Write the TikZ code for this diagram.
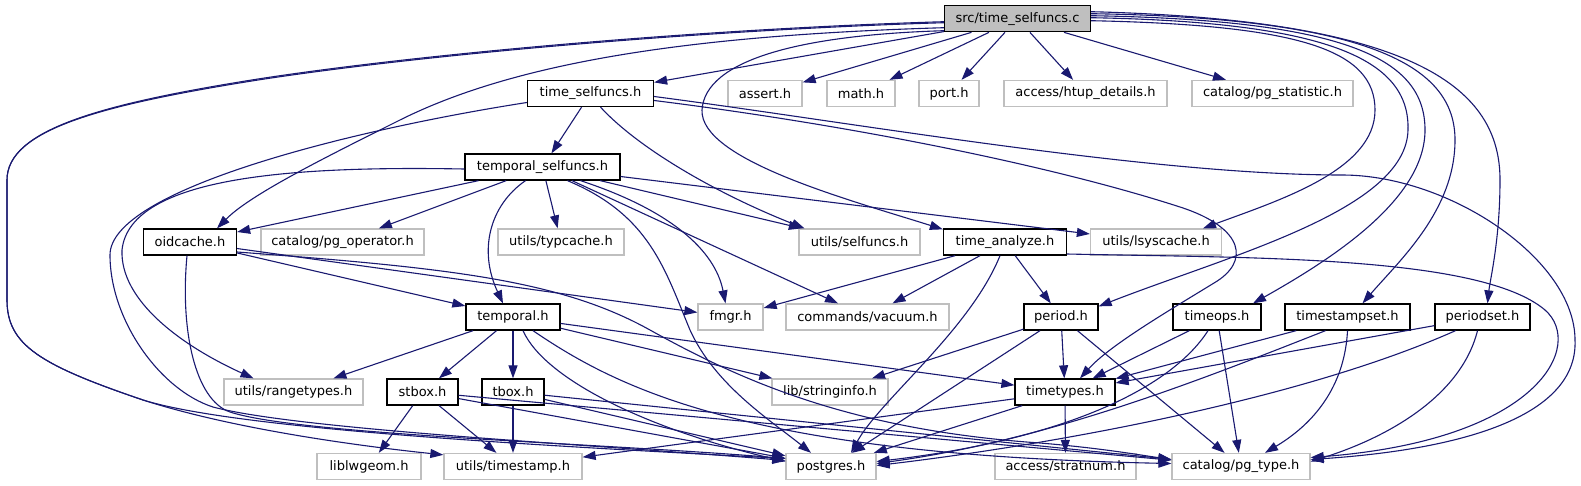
\documentclass[tikz,border=0pt]{standalone}
\usepackage{fontspec}
\setmainfont{DejaVu Sans}
\usetikzlibrary{arrows.meta}
\definecolor{edgeblue}{RGB}{25,25,112}
\definecolor{grey75}{RGB}{191,191,191}

\begin{document}
\begin{tikzpicture}[x=1pt,y=-1pt,
    hdr/.style={draw=black, line width=1.3pt, minimum height=26pt, inner sep=0pt,
        font=\fontsize{13}{15}\selectfont},
    sys/.style={hdr, draw=grey75},
    inc/.style={draw=edgeblue, line width=1.1pt, -{Triangle[length=13pt,width=9pt]}}]
    \useasboundingbox (0,0) rectangle (1581,485);

    \node[hdr, fill=grey75, minimum width=146pt] (root) at (1017.5,18.7) {src/time\_selfuncs.c};

    \node[hdr, minimum width=126pt] (tsh) at (590.5,93.5) {time\_selfuncs.h};
    \node[sys, minimum width=74pt] (assert) at (765,93.5) {assert.h};
    \node[sys, minimum width=68pt] (math) at (861,93.5) {math.h};
    \node[sys, minimum width=60pt] (port) at (949,93.5) {port.h};
    \node[sys, minimum width=163pt] (htup) at (1085.5,93.5) {access/htup\_details.h};
    \node[sys, minimum width=161pt] (pgstat) at (1272.5,93.5) {catalog/pg\_statistic.h};

    \node[hdr, minimum width=155pt] (tsf) at (542.5,167) {temporal\_selfuncs.h};

    \node[hdr, minimum width=93pt] (oid) at (190,242) {oidcache.h};
    \node[sys, minimum width=163pt] (pgop) at (342.5,242) {catalog/pg\_operator.h};
    \node[sys, minimum width=126pt] (typc) at (561,242) {utils/typcache.h};
    \node[sys, minimum width=121pt] (sfun) at (859.5,242) {utils/selfuncs.h};
    \node[hdr, minimum width=123pt] (ta) at (1005,242) {time\_analyze.h};
    \node[sys, minimum width=131pt] (lsys) at (1156,242) {utils/lsyscache.h};

    \node[hdr, minimum width=94pt] (tp) at (513,317) {temporal.h};
    \node[sys, minimum width=65pt] (fmgr) at (730.5,317) {fmgr.h};
    \node[sys, minimum width=163pt] (vac) at (867.5,317) {commands/vacuum.h};
    \node[hdr, minimum width=74pt] (pd) at (1061,317) {period.h};
    \node[hdr, minimum width=88pt] (to) at (1217,317) {timeops.h};
    \node[hdr, minimum width=125pt] (tss) at (1347.5,317) {timestampset.h};
    \node[hdr, minimum width=95pt] (ps) at (1482.5,317) {periodset.h};

    \node[sys, minimum width=139pt] (rng) at (293.5,392) {utils/rangetypes.h};
    \node[hdr, minimum width=71pt] (sb) at (422.5,392) {stbox.h};
    \node[hdr, minimum width=62pt] (tb) at (513,392) {tbox.h};
    \node[sys, minimum width=116pt] (si) at (830,392) {lib/stringinfo.h};
    \node[hdr, minimum width=100pt] (tt) at (1065,392) {timetypes.h};

    \node[sys, minimum width=104pt] (lwg) at (369,466.5) {liblwgeom.h};
    \node[sys, minimum width=138pt] (tsp) at (513,466.5) {utils/timestamp.h};
    \node[sys, minimum width=90pt] (pg) at (831,466.5) {postgres.h};
    \node[sys, minimum width=141pt] (strat) at (1065.5,466.5) {access/stratnum.h};
    \node[sys, minimum width=138pt] (pgt) at (1241,466.5) {catalog/pg\_type.h};

    \draw[inc] (root) -- (tsh);
    \draw[inc] (root) -- (assert);
    \draw[inc] (root) -- (math);
    \draw[inc] (root) -- (port);
    \draw[inc] (root) -- (htup);
    \draw[inc] (root) -- (pgstat);
    \draw[inc] ([yshift=-4pt]root.west) .. controls (700,30) and (420,55) .. (258,80)
        .. controls (100,105) and (7,130) .. (7,180) -- (7,300)
        .. controls (7,345) and (40,365) .. (143,400)
        .. controls (230,428) and (350,445) .. ([yshift=-2pt]tsp.north west);
    \draw[inc] ([yshift=-3pt]root.west) .. controls (700,29) and (420,54) .. (258,79)
        .. controls (100,104) and (7,130) .. (7,180) -- (7,300)
        .. controls (7,345) and (40,365) .. (143,400)
        .. controls (240,430) and (550,446) .. ([yshift=8pt]pg.west);
    \draw[inc] ([yshift=-9pt]root.west) .. controls (700,35) and (520,60) .. (400,120)
        .. controls (320,160) and (250,195) .. ([xshift=27pt]oid.north);
    \draw[inc] ([yshift=-12pt]root.west) .. controls (800,35) and (705,60) .. (702,110)
        .. controls (700,160) and (850,200) .. ([yshift=-1pt]ta.north west);
    \draw[inc] ([yshift=-2pt]root.east) .. controls (1300,25) and (1375,50) .. (1375,110)
        .. controls (1375,170) and (1280,200) .. ([xshift=47pt]lsys.north);
    \draw[inc] ([yshift=1pt]root.east) .. controls (1330,22) and (1410,60) .. (1408,130)
        .. controls (1406,210) and (1230,255) .. ([yshift=-3pt]pd.north east);
    \draw[inc] ([yshift=3pt]root.east) .. controls (1350,20) and (1425,60) .. (1425,130)
        .. controls (1425,200) and (1330,260) .. ([xshift=36pt]to.north);
    \draw[inc] ([yshift=5pt]root.east) .. controls (1380,18) and (1455,70) .. (1455,140)
        .. controls (1455,210) and (1400,260) .. ([xshift=15pt]tss.north);
    \draw[inc] ([yshift=7pt]root.east) .. controls (1420,20) and (1500,90) .. (1500,180)
        .. controls (1500,240) and (1490,280) .. ([xshift=5pt]ps.north);

    \draw[inc] (tsh) -- (tsf);
    \draw[inc] ([xshift=10pt]tsh.south) .. controls (640,150) and (720,195) .. ([xshift=-55pt]sfun.north);
    \draw[inc] ([yshift=-7pt]tsh.east) .. controls (850,125) and (1050,165) .. (1180,207)
        .. controls (1245,228) and (1250,262) .. (1214,283)
        .. controls (1170,310) and (1110,345) .. ([xshift=15pt]tt.north);
    \draw[inc] ([yshift=-3pt]tsh.east) .. controls (850,122) and (1150,175) .. (1342,175)
        .. controls (1450,175) and (1575,260) .. (1575,340)
        .. controls (1578,410) and (1480,448) .. ([yshift=7pt]pgt.east);
    \draw[inc] ([yshift=-9pt]tsh.west) .. controls (350,130) and (110,190) .. (110,255)
        .. controls (110,320) and (160,390) .. (213,407)
        .. controls (300,430) and (600,445) .. ([yshift=6pt]pg.west);

    \draw[inc] (tsf) -- (oid);
    \draw[inc] (tsf) -- (pgop);
    \draw[inc] (tsf) -- (typc);
    \draw[inc] (tsf) -- (vac);
    \draw[inc] (tsf) -- (sfun);
    \draw[inc] (tsf) -- (lsys);
    \draw[inc] ([xshift=-17pt]tsf.south) .. controls (490,205) and (478,250) .. ([xshift=-10pt]tp.north);
    \draw[inc] ([xshift=25pt]tsf.south) .. controls (650,215) and (665,270) .. (690,330)
        .. controls (715,385) and (770,420) .. ([xshift=-20pt]pg.north);
    \draw[inc] ([xshift=38pt]tsf.south) .. controls (670,210) and (715,250) .. ([xshift=-5pt]fmgr.north);
    \draw[inc] ([yshift=-2pt]tsf.west) .. controls (300,166) and (130,175) .. (122,250)
        .. controls (120,300) and (180,345) .. ([xshift=-40pt]rng.north);

    \draw[inc] (oid) -- (tp);
    \draw[inc] (oid) -- (fmgr);
    \draw[inc] ([xshift=-3pt]oid.south) .. controls (180,330) and (195,400) .. (230,412)
        .. controls (300,435) and (600,443) .. ([yshift=8pt]pg.west);
    \draw[inc] ([yshift=-10pt]oid.east) .. controls (450,268) and (560,280) .. (650,330)
        .. controls (740,380) and (850,430) .. (1040,443)
        .. controls (1100,448) and (1140,455) .. ([yshift=7pt]pgt.west);

    \draw[inc] (ta) -- (fmgr);
    \draw[inc] (ta) -- (vac);
    \draw[inc] (ta) -- (pd);
    \draw[inc] ([xshift=-5pt]ta.south) .. controls (970,330) and (880,400) .. ([xshift=20pt]pg.north);
    \draw[inc] ([yshift=-12pt]ta.east) .. controls (1250,258) and (1480,255) .. (1545,310)
        .. controls (1585,345) and (1540,440) .. ([yshift=9pt]pgt.east);

    \draw[inc] (tp) -- (rng);
    \draw[inc] (tp) -- (sb);
    \draw[inc] (tp) -- (tb);
    \draw[inc] (tp) -- (si);
    \draw[inc] (tp) -- (tt);
    \draw[inc] ([xshift=10pt]tp.south) .. controls (545,380) and (650,430) .. ([yshift=5pt]pg.west);
    \draw[inc] ([xshift=20pt]tp.south) .. controls (620,390) and (750,455) .. ([yshift=3pt]pgt.west);

    \draw[inc] (pd) -- (si);
    \draw[inc] (pd) -- (pg);
    \draw[inc] (pd) -- (tt);
    \draw[inc] (pd) -- (pgt);

    \draw[inc] (to) -- (tt);
    \draw[inc] (to) -- (pgt);
    \draw[inc] ([xshift=-9pt]to.south) .. controls (1170,390) and (1060,440) .. ([yshift=5pt]pg.east);

    \draw[inc] (tss) -- (tt);
    \draw[inc] ([xshift=-22pt]tss.south) .. controls (1200,380) and (1050,440) .. ([yshift=3pt]pg.east);
    \draw[inc] (tss.south) .. controls (1345,380) and (1320,420) .. ([xshift=24pt]pgt.north);

    \draw[inc] (ps) -- (tt);
    \draw[inc] ([xshift=-27pt]ps.south) .. controls (1300,400) and (1050,445) .. ([yshift=1pt]pg.east);
    \draw[inc] ([xshift=-5pt]ps.south) .. controls (1460,400) and (1380,440) .. ([yshift=5pt]pgt.east);

    \draw[inc] (sb) -- (lwg);
    \draw[inc] (sb) -- (tsp);
    \draw[inc] (sb) -- (pg);
    \draw[inc] (sb) -- (pgt);

    \draw[inc] (tb) -- (tsp);
    \draw[inc] (tb) -- (pg);
    \draw[inc] (tb) -- (pgt);

    \draw[inc] (tt) -- (tsp);
    \draw[inc] (tt) -- (pg);
    \draw[inc] (tt) -- (strat);
\end{tikzpicture}
\end{document}
